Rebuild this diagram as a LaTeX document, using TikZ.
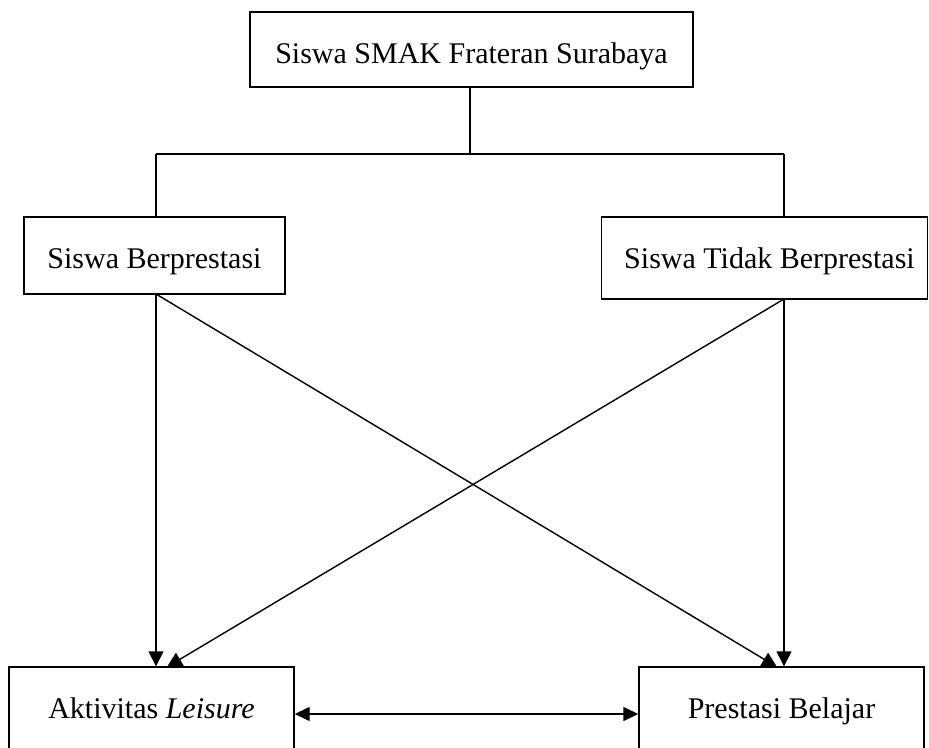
\documentclass[tikz,border=0pt]{standalone}
\usepackage{fontspec}
\setmainfont{Liberation Serif}
\usetikzlibrary{arrows.meta}
\begin{document}
\begin{tikzpicture}[x=1pt,y=-1pt,
  box/.style={draw,line width=1.4pt,inner sep=0pt,font=\fontsize{30}{36}\selectfont,text depth=0pt},
  conn/.style={line width=1.4pt},
  arr/.style={conn,-{Triangle[length=15pt,width=15pt]}},
  darr/.style={conn,{Triangle[length=15pt,width=14pt]}-{Triangle[length=15pt,width=14pt]}}]
\useasboundingbox (0,0) rectangle (929,747);
\clip (0,0) rectangle (929,747);
\node[box,minimum width=443pt,minimum height=75pt,text height=27pt] (top) at (471.5,49.5) {Siswa SMAK Frateran Surabaya};
\node[box,minimum width=261pt,minimum height=77pt,text height=25pt] (lm) at (154.5,255.5) {Siswa Berprestasi};
\node[box,minimum width=326pt,minimum height=82pt,text height=20pt] (rm) at (764.5,258) {\hspace*{10pt}Siswa Tidak Berprestasi};
\node[box,minimum width=285pt,minimum height=84pt,text height=18pt] (bl) at (151.5,709) {Aktivitas \textit{Leisure}};
\node[box,minimum width=285pt,minimum height=84pt,text height=18pt] (br) at (781.5,709) {Prestasi Belajar};
\coordinate (jl) at (156,154);
\coordinate (jr) at (784,154);
\coordinate (jt) at (470,154);
\coordinate (lmb) at (156,294);
\coordinate (rmb) at (784,299);
\coordinate (blin) at (167,667);
\coordinate (brin) at (777,667);
\draw[conn] (jt |- top.south) -- (jt);
\draw[conn] (jl) -- (jr);
\draw[conn] (jl) -- (jl |- lm.north);
\draw[conn] (jr) -- (jr |- rm.north);
\draw[arr] (lmb) -- (lmb |- bl.north);
\draw[arr] (lmb) -- (brin);
\draw[arr] (rmb) -- (rmb |- br.north);
\draw[arr] (rmb) -- (blin);
\draw[darr] ([yshift=-5pt]bl.east) -- ([yshift=-5pt]br.west);
\end{tikzpicture}
\end{document}
